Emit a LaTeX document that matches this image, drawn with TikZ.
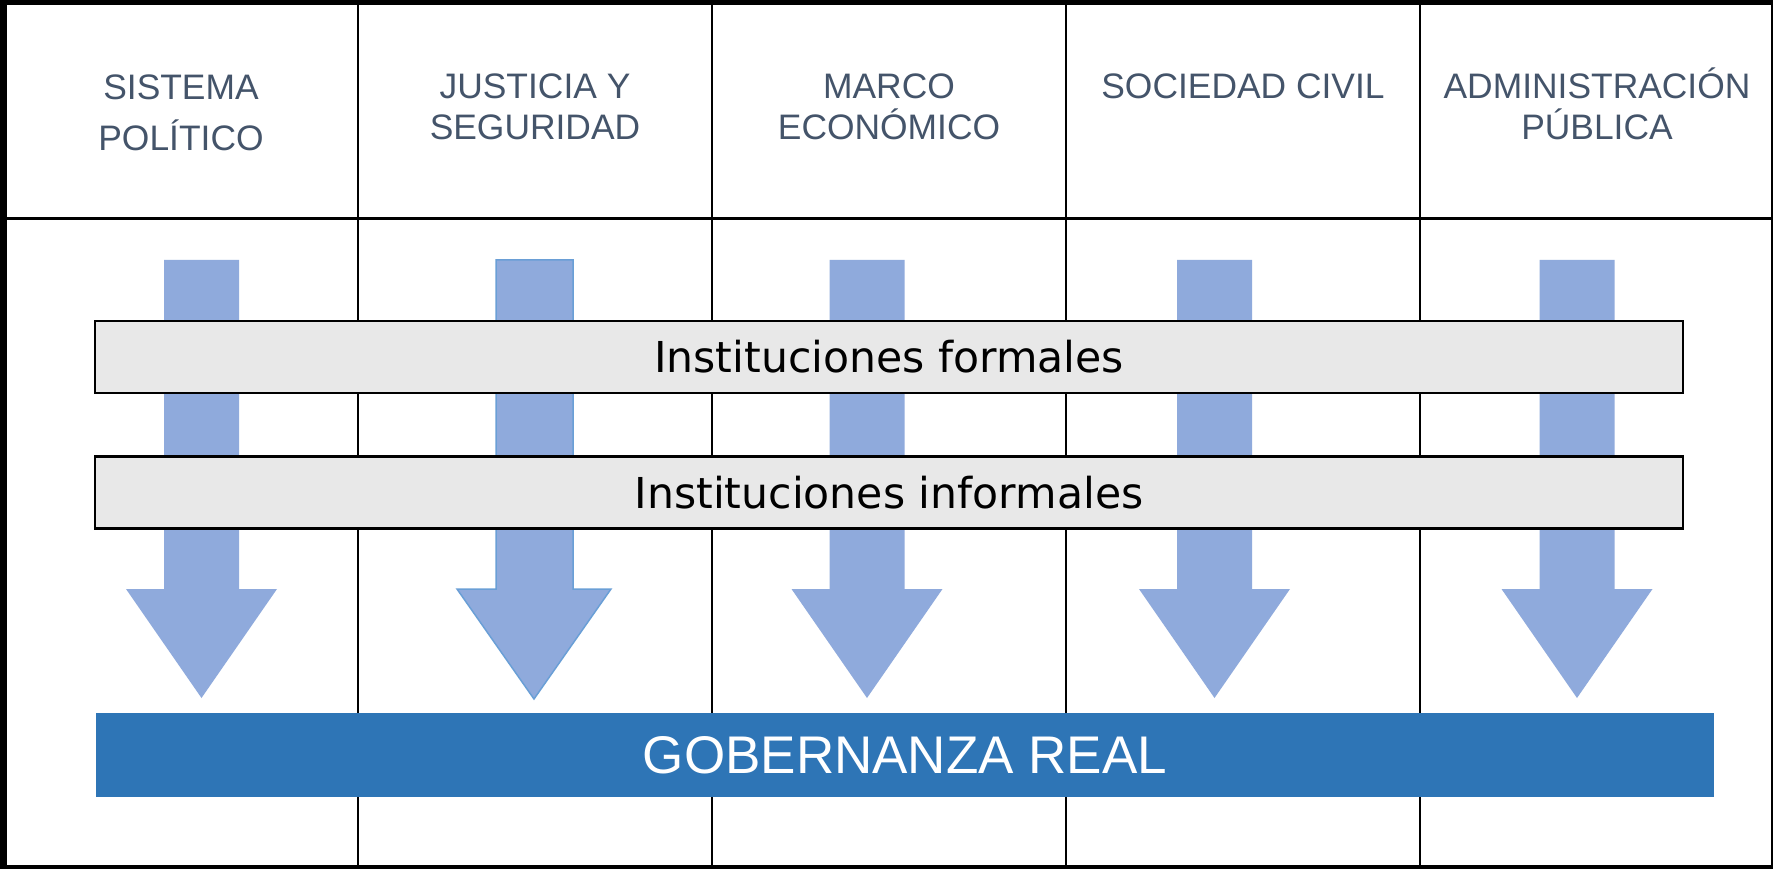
\documentclass[tikz,border=0pt]{standalone}
\usepackage{fontspec}
\setmainfont{Liberation Sans}
\newfontfamily\dvfont{DejaVu Sans}
\definecolor{hdrtext}{HTML}{44546A}
\definecolor{arrowfill}{HTML}{8FAADC}
\definecolor{arrowline}{HTML}{6A9FD6}
\definecolor{barfill}{HTML}{E8E8E8}
\definecolor{govblue}{HTML}{2E75B6}
\begin{document}
\begin{tikzpicture}[x=1pt,y=-1pt,
  gridline/.style={line width=2.3pt,black},
  hdr/.style={anchor=base,inner sep=0pt,text=hdrtext,font=\fontsize{35.4}{42}\selectfont},
  instbar/.style={draw=black,line width=2.2pt,fill=barfill,minimum width=1588pt,minimum height=72pt,inner sep=0pt,font=\dvfont\fontsize{42.6}{50}\selectfont},
  govbar/.style={fill=govblue,minimum width=1618pt,minimum height=84pt,inner sep=0pt,text=white,font=\fontsize{53}{60}\selectfont},
  blockarrow/.pic={\fill[arrowfill] (-37.5,260) -- (37.5,260) -- (37.5,589) -- (75.5,589) -- (0,698) -- (-75.5,589) -- (-37.5,589) -- cycle;}
]
\useasboundingbox (0,0) rectangle (1773,869);
\fill[white] (0,0) rectangle (1773,869);
% grid
\draw[gridline] (358,0) -- (358,869);
\draw[gridline] (712,0) -- (712,869);
\draw[gridline] (1066,0) -- (1066,869);
\draw[gridline] (1420,0) -- (1420,869);
\draw[line width=3pt] (0,219) -- (1772,219);
% outer border
\fill[black] (0,0) rectangle (7,869);
\fill[black] (0,0) rectangle (1773,5);
\fill[black] (0,865) rectangle (1773,869);
\draw[line width=2pt] (1771.5,0) -- (1771.5,869);
% headers
\node[hdr] (h1a) at (181,99.3) {SISTEMA};
\node[hdr] (h1b) at (181,150.7) {POLÍTICO};
\node[hdr] (h2a) at (535,99) {JUSTICIA Y};
\node[hdr] (h2b) at (535,140) {SEGURIDAD};
\node[hdr] (h3a) at (889,99) {MARCO};
\node[hdr] (h3b) at (889,140) {ECONÓMICO};
\node[hdr] (h4a) at (1243,99) {SOCIEDAD CIVIL};
\node[hdr] (h5a) at (1597,98.3) {ADMINISTRACIÓN};
\node[hdr] (h5b) at (1597,140) {PÚBLICA};
% arrows
\pic (a1) at (201.5,0) {blockarrow};
\filldraw[fill=arrowfill,draw=arrowline,line width=1.5pt] (496,260) -- (573,260) -- (573,589) -- (611,589) -- (534,699) -- (457,589) -- (496,589) -- cycle;
\pic (a3) at (867,0) {blockarrow};
\pic (a4) at (1214.5,0) {blockarrow};
\pic (a5) at (1577,0) {blockarrow};
% bars
\node[instbar] (formal) at (889,356.7) {Instituciones formales};
\node[instbar] (informal) at (889,492.5) {Instituciones informales};
\node[govbar] (gov) at (905,755) {GOBERNANZA REAL};
\end{tikzpicture}
\end{document}
